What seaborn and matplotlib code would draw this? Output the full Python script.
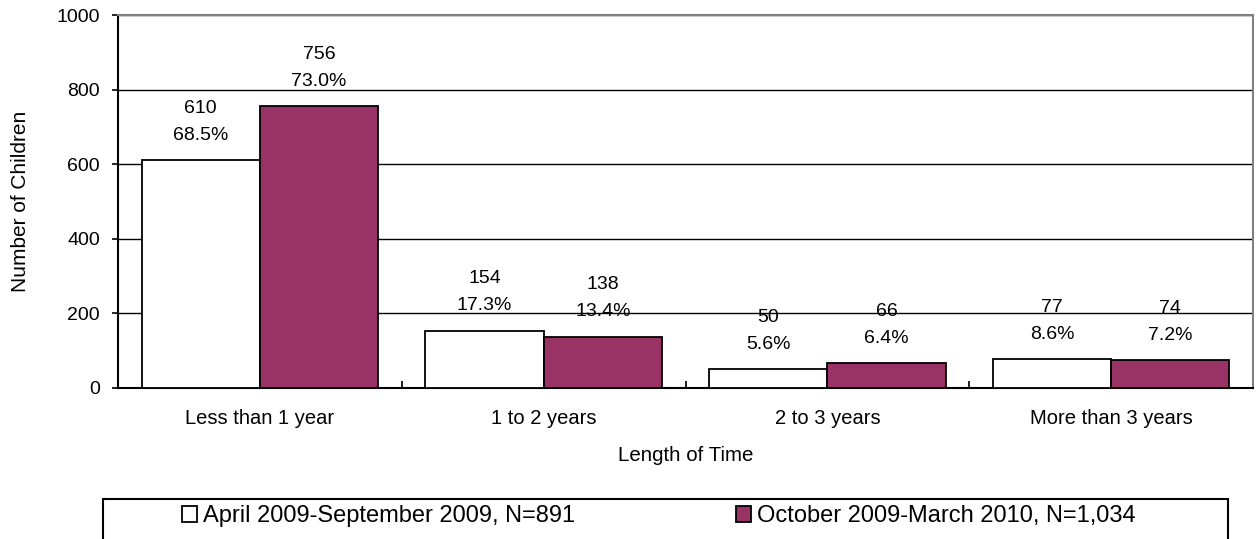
import matplotlib
matplotlib.use("Agg")
import matplotlib.pyplot as plt
import seaborn as sns
import pandas as pd
from matplotlib.patches import Rectangle

categories = ["Less than 1 year", "1 to 2 years", "2 to 3 years", "More than 3 years"]
series_names = ["April 2009-September 2009, N=891", "October 2009-March 2010, N=1,034"]
april_counts = [610, 154, 50, 77]
october_counts = [756, 138, 66, 74]
april_pct = ["68.5%", "17.3%", "5.6%", "8.6%"]
october_pct = ["73.0%", "13.4%", "6.4%", "7.2%"]
y_ticks = [0, 200, 400, 600, 800, 1000]
colors = ["#FFFFFF", "#993366"]

df = pd.DataFrame({
    "Length of Time": categories * 2,
    "Number of Children": april_counts + october_counts,
    "Period": [series_names[0]] * 4 + [series_names[1]] * 4,
})
labels_pct = [april_pct, october_pct]
labels_cnt = [april_counts, october_counts]

sns.set_style("white")
plt.rcParams["font.family"] = ["Liberation Sans", "DejaVu Sans"]
for k in ["text.color", "axes.labelcolor", "xtick.color", "ytick.color"]:
    plt.rcParams[k] = "black"

W, H = 1256, 539
fig = plt.figure(figsize=(W / 100, H / 100), dpi=100)
ax = fig.add_axes([118 / W, 1 - 388 / H, (1253 - 118) / W, (388 - 15) / H])

sns.barplot(data=df, x="Length of Time", y="Number of Children", hue="Period",
            palette=colors, width=0.834, edgecolor="black", linewidth=1.3,
            saturation=1, ax=ax, zorder=3)

handles, labs = ax.get_legend_handles_labels()
if ax.get_legend() is not None:
    ax.get_legend().remove()

ax.set_xlim(-0.5, 3.5)
ax.set_ylim(0, 1000)
ax.set_yticks(y_ticks)
ax.set_yticklabels([str(t) for t in y_ticks], fontsize=14)
ax.yaxis.grid(True, color="black", linewidth=1.0)
ax.set_axisbelow(True)
ax.tick_params(axis="y", direction="out", length=4, width=1.2, color="black", left=True, pad=9)
ax.tick_params(axis="x", which="major", length=0, labelsize=14.5, pad=15)
ax.set_xticks([0.5, 1.5, 2.5], minor=True)
ax.tick_params(axis="x", which="minor", direction="in", length=5, width=1.2, color="black", bottom=True)

for s in ["left", "bottom"]:
    ax.spines[s].set_color("black")
    ax.spines[s].set_linewidth(1.5)
for s in ["top", "right"]:
    ax.spines[s].set_color("#808080")
    ax.spines[s].set_linewidth(1.5)
    ax.spines[s].set_visible(True)

ax.set_xlabel("Length of Time", fontsize=14.8, labelpad=13)
ax.set_ylabel("Number of Children", fontsize=15, labelpad=19)

for ci, cont in enumerate(ax.containers):
    for bi, bar in enumerate(cont):
        xc = bar.get_x() + bar.get_width() / 2
        top = bar.get_height()
        ax.annotate(labels_pct[ci][bi], (xc, top), xytext=(0, 25), textcoords="offset pixels",
                    ha="center", va="center", fontsize=14, zorder=5)
        ax.annotate(str(labels_cnt[ci][bi]), (xc, top), xytext=(0, 52), textcoords="offset pixels",
                    ha="center", va="center", fontsize=14, zorder=5)

# legend frame (extends beyond bottom of figure as in the reference)
fig.patches.append(Rectangle((103 / W, -0.05), (1228 - 103) / W, 0.05 + (H - 499) / H,
                             transform=fig.transFigure, facecolor="white", edgecolor="black",
                             linewidth=1.5, zorder=0))
leg = fig.legend(handles, labs, loc="center left", bbox_to_anchor=(182 / W, 1 - 516 / H),
                 ncol=2, frameon=False, fontsize=17, handlelength=0.64, handleheight=0.64,
                 handletextpad=0.25, columnspacing=6.8, borderaxespad=0, borderpad=0)

fig.savefig("out.png", dpi=100)
